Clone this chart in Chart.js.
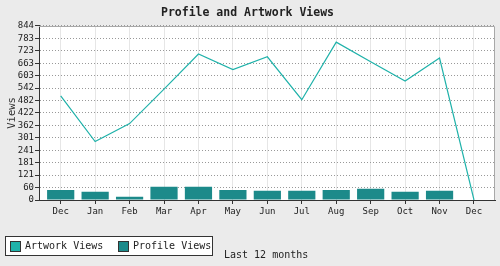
<!DOCTYPE html>
<html><head><meta charset="utf-8">
<script src="https://cdn.jsdelivr.net/npm/chart.js@4/dist/chart.umd.min.js"></script>
<style>
html,body{margin:0;padding:0;background:#ebebeb;}
#wrap{position:relative;width:500px;height:266px;overflow:hidden;}
#c{position:absolute;left:0;top:0;}
#legend{position:absolute;left:5px;top:236px;width:206px;height:18px;border:1px solid #333;background:#fff;}
.sw{position:absolute;top:4px;width:9px;height:9px;border:1px solid #333;}
.lt{position:absolute;top:3px;font:10px "DejaVu Sans Mono",monospace;line-height:12px;color:#222;white-space:nowrap;}
#xt{position:absolute;left:224px;top:249px;font:10px "DejaVu Sans Mono",monospace;line-height:12px;color:#222;white-space:nowrap;}
</style>
</head><body>
<div id="wrap"><canvas id="c" width="500" height="266"></canvas><div id="legend"></div><div id="xt"></div></div>
<script>
const categories = ['Dec','Jan','Feb','Mar','Apr','May','Jun','Jul','Aug','Sep','Oct','Nov','Dec'];
const artworkViews = [504, 283, 370, 537, 707, 632, 694, 486, 765, 670, 576, 688, 0];
const profileViews = [49, 40, 16, 64, 64, 49, 45, 45, 49, 54, 40, 45, null];
const yTickLabels = [0, 60, 121, 181, 241, 301, 362, 422, 482, 542, 603, 663, 723, 783, 844];
const titleText = 'Profile and Artwork Views';
const yTitle = 'Views';
const xTitle = 'Last 12 months';
const seriesNames = ['Artwork Views', 'Profile Views'];
const seriesColors = ['#20b2aa', '#1c8a8a'];

const MONO = '"DejaVu Sans Mono", monospace';

const bgPlugin = {
  id: 'bg',
  beforeDraw(chart) {
    const {ctx, chartArea: a} = chart;
    ctx.save();
    ctx.fillStyle = '#ffffff';
    ctx.fillRect(a.left, a.top, a.right - a.left, a.bottom - a.top);
    ctx.restore();
  },
  afterDatasetsDraw(chart) {
    const {ctx, chartArea: a} = chart;
    ctx.save();
    ctx.strokeStyle = '#a8a8a8';
    ctx.lineWidth = 1;
    ctx.beginPath();
    ctx.moveTo(Math.round(a.left) , Math.round(a.top) + 0.5);
    ctx.lineTo(Math.round(a.right) - 0.5, Math.round(a.top) + 0.5);
    ctx.lineTo(Math.round(a.right) - 0.5, Math.round(a.bottom));
    ctx.stroke();
    ctx.restore();
  }
};

new Chart(document.getElementById('c'), {
  type: 'bar',
  data: {
    datasets: [
      {
        type: 'line',
        label: seriesNames[0],
        data: artworkViews.map((v, i) => ({x: i, y: v})),
        borderColor: seriesColors[0],
        backgroundColor: seriesColors[0],
        borderWidth: 1.2,
        pointRadius: 0,
        tension: 0,
        order: 0
      },
      {
        type: 'bar',
        label: seriesNames[1],
        data: profileViews.map((v, i) => ({x: i, y: v})),
        backgroundColor: seriesColors[1],
        borderWidth: 0,
        categoryPercentage: 1,
        barPercentage: 0.79,
        order: 1
      }
    ]
  },
  options: {
    responsive: false,
    animation: false,
    layout: {padding: {left: 0, right: 5, top: 0, bottom: 0}},
    plugins: {
      legend: {display: false},
      tooltip: {enabled: false},
      title: {
        display: true,
        text: titleText,
        color: '#222',
        font: {family: MONO, size: 11.5, weight: 'bold'},
        padding: {top: 6, bottom: 6}
      }
    },
    scales: {
      x: {
        type: 'linear',
        offset: false,
        min: -0.63,
        max: 12.61,
        afterBuildTicks(scale) { scale.ticks = categories.map((_, i) => ({value: i})); },
        afterFit(scale) { scale.height = 66; },
        ticks: {
          callback: (v) => categories[v],
          color: '#222',
          font: {family: MONO, size: 9},
          padding: 2,
          maxRotation: 0,
          autoSkip: false
        },
        grid: {offset: false, color: '#e6e6e6', lineWidth: 1, tickColor: '#333', tickLength: 4, drawTicks: true},
        border: {color: '#333', width: 1}
      },
      y: {
        min: 0,
        max: 844,
        afterBuildTicks(scale) { scale.ticks = yTickLabels.map(v => ({value: v})); },
        afterFit(scale) { scale.width = 39; },
        ticks: {
          callback: (v) => String(v),
          color: '#222',
          font: {family: MONO, size: 9},
          padding: 1,
          autoSkip: false
        },
        grid: {color: '#999', lineWidth: 1, tickColor: '#333', tickLength: 4, drawTicks: true},
        border: {color: '#333', width: 1, dash: [1, 2]},
        title: {display: true, text: yTitle, color: '#333', font: {family: MONO, size: 10.5}, padding: {top: 6, bottom: 0}}
      }
    }
  },
  plugins: [bgPlugin]
});

// Legend & x title (HTML text)
const legend = document.getElementById('legend');
const swX = [4, 112];
const txX = [19, 127];
seriesNames.forEach((name, i) => {
  const sw = document.createElement('div');
  sw.className = 'sw';
  sw.style.left = swX[i] + 'px';
  sw.style.background = seriesColors[i];
  legend.appendChild(sw);
  const t = document.createElement('div');
  t.className = 'lt';
  t.style.left = txX[i] + 'px';
  t.textContent = name;
  legend.appendChild(t);
});
document.getElementById('xt').textContent = xTitle;
</script>
</body></html>
